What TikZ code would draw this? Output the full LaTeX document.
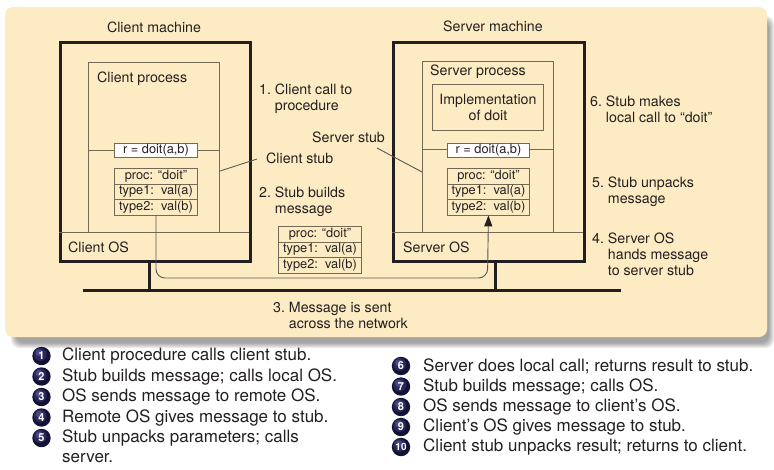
\documentclass[tikz,border=0pt]{standalone}
\usepackage{fontspec}
\setmainfont{TeX Gyre Heros}
\usetikzlibrary{arrows.meta}
\definecolor{bg}{RGB}{253,236,195}
\definecolor{thinc}{RGB}{115,105,85}
\definecolor{ink}{RGB}{35,31,32}
\definecolor{ballA}{RGB}{18,18,52}
\definecolor{ballB}{RGB}{45,45,100}
\definecolor{ballC}{RGB}{95,95,155}
\begin{document}
\begin{tikzpicture}[x=1pt,y=-1pt,
  lbl/.style={font=\fontsize{14.2}{16}\selectfont, text=ink, inner sep=0pt, anchor=west, align=left},
  title/.style={font=\fontsize{14.2}{16}\selectfont, text=ink, inner sep=0pt},
  machine/.style={draw=ink, line width=2.6pt, anchor=north west, inner sep=0pt},
  procbox/.style={draw=thinc, line width=0.9pt, anchor=north west, inner sep=0pt},
  row/.style={draw=thinc, line width=0.9pt, minimum width=83pt, minimum height=15.5pt, inner sep=0pt,
     font=\fontsize{12.8}{14}\selectfont, text=ink, anchor=north west},
  callbox/.style={row, fill=white, minimum height=14pt},
  thinline/.style={draw=thinc, line width=0.9pt},
  net/.style={draw=ink, line width=3pt},
  leg/.style={font=\fontsize{17}{20.5}\selectfont, text=ink, inner sep=0pt, anchor=west},
  ballnum/.style={circle, minimum width=18pt, minimum height=18pt, inner sep=0pt, outer sep=0pt,
     fill=ballA, draw=ballA, line width=0.6pt,
     text=white, font=\bfseries\fontsize{11}{11}\selectfont},
  ballhi/.style={fill=ballB, opacity=0.85},
  ballhi2/.style={fill=ballC, opacity=0.6}
]
\useasboundingbox (0,0) rectangle (774,469);
% shadow
\foreach \k in {0,...,5}{
  \fill[black, opacity=0.07, rounded corners=8pt] (11+\k,16+\k) rectangle (774-\k,348-\k);
}
\fill[bg, rounded corners=8pt] (5,7) rectangle (767,337);

% Client machine
\node[machine, minimum width=190pt, minimum height=219pt] (cmach) at (59,41) {};
\node[title] (cmachT) at (154,27) {Client machine};
\node[procbox, minimum width=131pt, minimum height=170pt] (cproc) at (88,62) {};
\node[lbl] (cprocT) at (97,79) {Client process};
\coordinate (cosL) at (59,232);
\coordinate (cosR) at (249,232);
\draw[thinline] (cosL) -- (cosR);
\node[lbl] (cosT) at (68,247) {Client OS};
\coordinate (ccallL) at (88,150);
\coordinate (ccallR) at (219,150);
\draw[thinline] (ccallL) -- (ccallR);
\node[callbox] (ccall) at (114,143) {r = doit(a,b)};
\node[row] (cm1) at (114,168) {proc: “doit”};
\node[row] (cm2) at (114,183.5) {type1:\ \ val(a)};
\node[row] (cm3) at (114,199) {type2:\ \ val(b)};

% Server machine
\node[machine, minimum width=191pt, minimum height=219pt] (smach) at (392,41) {};
\node[title] (smachT) at (493,26) {Server machine};
\node[procbox, minimum width=131pt, minimum height=171pt] (sproc) at (422,61) {};
\node[lbl] (sprocT) at (430,72) {Server process};
\node[procbox, minimum width=111pt, minimum height=46pt, align=center,
      font=\fontsize{14.2}{16}\selectfont, text=ink] (impl) at (432,84) {Implementation\\of doit};
\coordinate (sosL) at (392,232);
\coordinate (sosR) at (583,232);
\draw[thinline] (sosL) -- (sosR);
\node[lbl] (sosT) at (403,247) {Server OS};
\coordinate (scallL) at (422,149);
\coordinate (scallR) at (553,149);
\draw[thinline] (scallL) -- (scallR);
\node[callbox, minimum width=82pt] (scall) at (447,143) {r = doit(a,b)};
\node[row, minimum width=82pt] (sm1) at (447,168) {proc: “doit”};
\node[row, minimum width=82pt] (sm2) at (447,183.5) {type1:\ \ val(a)};
\node[row, minimum width=82pt] (sm3) at (447,199) {type2:\ \ val(b)};

% message in transit
\node[row] (mm1) at (278,226) {proc: “doit”};
\node[row] (mm2) at (278,241.5) {type1:\ \ val(a)};
\node[row] (mm3) at (278,257) {type2:\ \ val(b)};

% network
\coordinate (netL) at (83,290);
\coordinate (netR) at (621,290);
\coordinate (cn) at (149,290);
\coordinate (sn) at (495.5,290);
\draw[net] (netL) -- (netR);
\draw[net] (cn |- cmach.south) -- (cn);
\draw[net] (sn |- smach.south) -- (sn);

% message path
\coordinate (turn) at (487.5,278);
\draw[line width=0.9pt, draw=ink!75, rounded corners=9pt,
      -{Triangle[length=11pt,width=8pt,color=ink]}] (cm3.south) |- (turn) -- (sm3.south);

% labels
\node[lbl] (l1) at (259,99) {1.\ Client call to\\\phantom{1.\ }procedure};
\node[lbl] (sstub) at (312,137) {Server stub};
\node[lbl] (cstub) at (266,158) {Client stub};
\node[lbl] (l2) at (259,202) {2.\ Stub builds\\\phantom{2.\ }message};
\node[lbl] (l3) at (273,315) {3.\ Message is sent\\\phantom{3.\ }across the network};
\node[lbl] (l6) at (590,109) {6.\ Stub makes\\\phantom{6.\ }local call to “doit”};
\node[lbl] (l5) at (592,192) {5.\ Stub unpacks\\\phantom{5.\ }message};
\node[lbl] (l4) at (592,254) {4.\ Server OS\\\phantom{4.\ }hands message\\\phantom{4.\ }to server stub};

\coordinate (csA) at (220,171);
\coordinate (csB) at (257,159);
\draw[line width=0.9pt, draw=ink!75] (csA) -- (csB);
\coordinate (ssA) at (377,148);
\coordinate (ssB) at (422,172);
\draw[line width=0.9pt, draw=ink!75] (ssA) -- (ssB);

% legend balls: base disc, soft highlight, then number
\foreach \x/\y in {41.5/356, 41.5/376.5, 41.5/397, 41.5/417.5, 41.5/438,
                   401/366, 401/386.5, 401/407, 401/427, 401/447}{
  \fill[ballA] (\x,\y) circle [radius=9.2];
  \fill[ballhi] (\x-1.3,\y-1.6) circle [radius=6.5];
  \fill[ballhi2] (\x-2.4,\y-3.2) circle [radius=3.5];
}
\node[text=white, font=\bfseries\fontsize{11}{11}\selectfont] (b1) at (41.5,356) {1};
\node[text=white, font=\bfseries\fontsize{11}{11}\selectfont] (b2) at (41.5,376.5) {2};
\node[text=white, font=\bfseries\fontsize{11}{11}\selectfont] (b3) at (41.5,397) {3};
\node[text=white, font=\bfseries\fontsize{11}{11}\selectfont] (b4) at (41.5,417.5) {4};
\node[text=white, font=\bfseries\fontsize{11}{11}\selectfont] (b5) at (41.5,438) {5};
\node[leg] (t1) at (62,356) {Client procedure calls client stub.};
\node[leg] (t2) at (62,376.5) {Stub builds message; calls local OS.};
\node[leg] (t3) at (62,397) {OS sends message to remote OS.};
\node[leg] (t4) at (62,417.5) {Remote OS gives message to stub.};
\node[leg] (t5) at (62,438) {Stub unpacks parameters; calls};
\node[leg] (t5b) at (62,458.5) {server.};

\node[text=white, font=\bfseries\fontsize{11}{11}\selectfont] (b6) at (401,366) {6};
\node[text=white, font=\bfseries\fontsize{11}{11}\selectfont] (b7) at (401,386.5) {7};
\node[text=white, font=\bfseries\fontsize{11}{11}\selectfont] (b8) at (401,407) {8};
\node[text=white, font=\bfseries\fontsize{11}{11}\selectfont] (b9) at (401,427) {9};
\node[text=white, font=\bfseries\fontsize{10}{10}\selectfont] (b10) at (401,447) {10};
\node[leg] (t6) at (423,366) {Server does local call; returns result to stub.};
\node[leg] (t7) at (423,386.5) {Stub builds message; calls OS.};
\node[leg] (t8) at (423,407) {OS sends message to client’s OS.};
\node[leg] (t9) at (423,427) {Client’s OS gives message to stub.};
\node[leg] (t10) at (423,447) {Client stub unpacks result; returns to client.};
\end{tikzpicture}
\end{document}
